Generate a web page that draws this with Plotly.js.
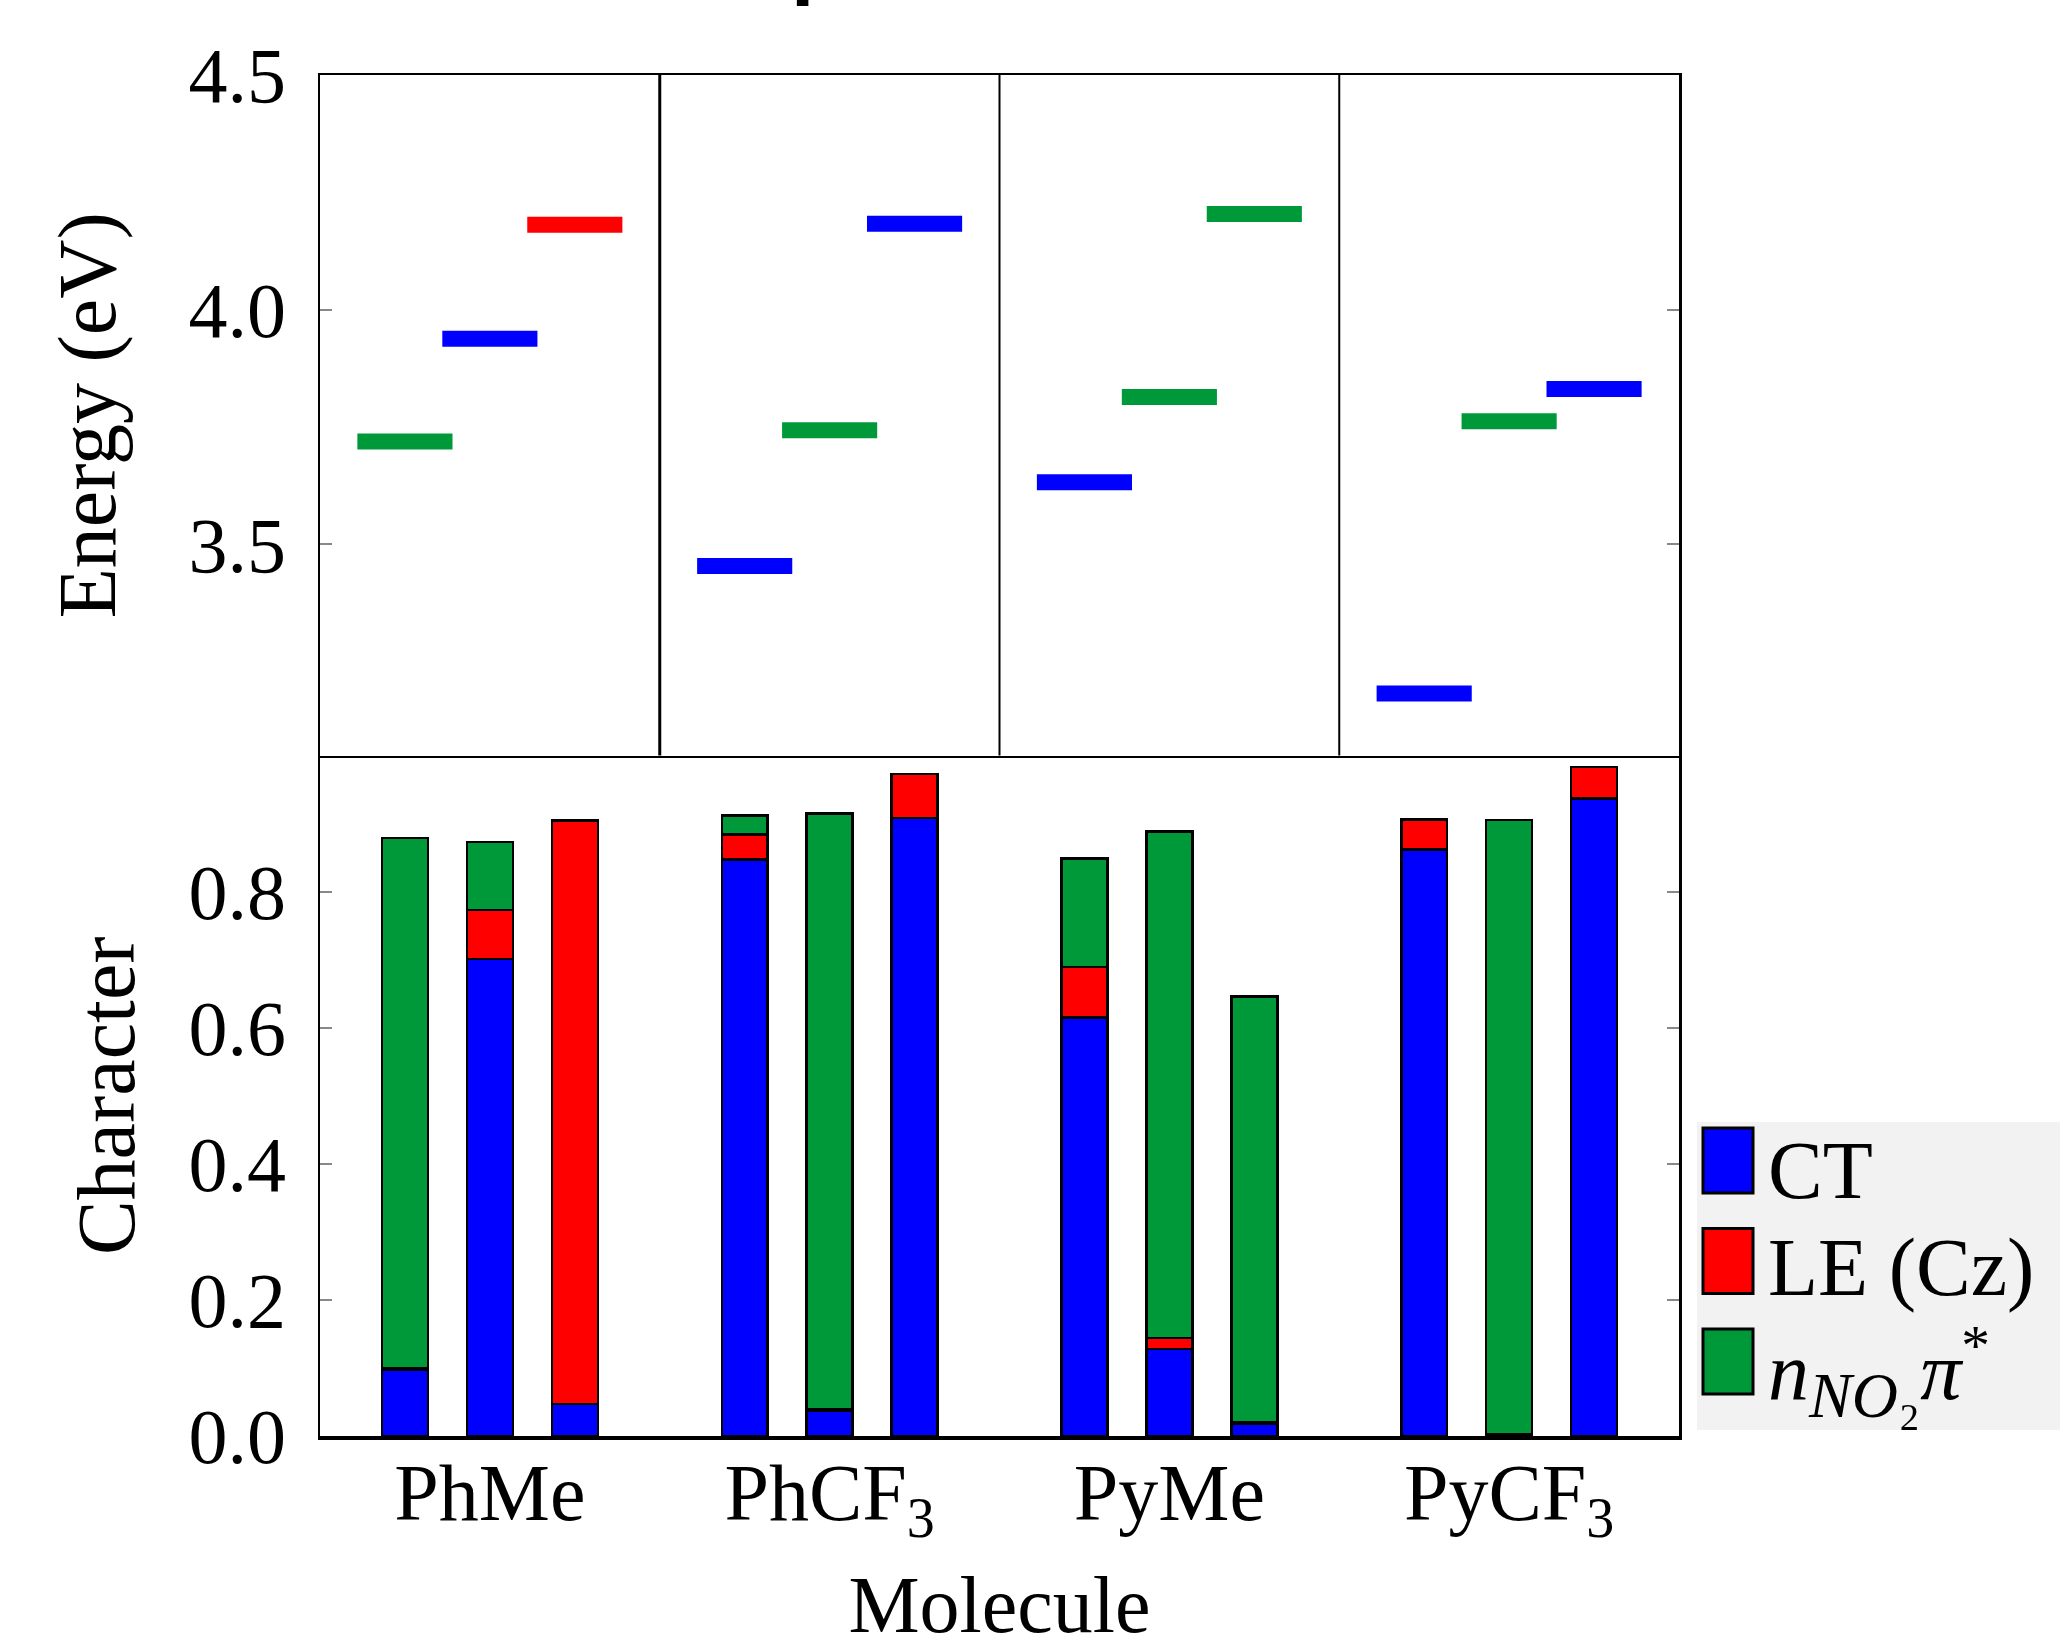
<!DOCTYPE html>
<html><head><meta charset="utf-8">
<script src="https://cdn.plot.ly/plotly-3.0.1.min.js"></script>
<style>html,body{margin:0;padding:0;background:#fff}</style>
</head><body>
<div id="chart" style="width:2060px;height:1649px"></div>
<script>
// ---- data ----
const molecules = ['PhMe', 'PhCF<sub>3</sub>', 'PyMe', 'PyCF<sub>3</sub>'];
const componentNames = ['CT', 'LE (Cz)',
  '<i>n</i><sub><span style="font-size:64px"><i>NO</i>\u2082</span></sub><i>\u03c0</i><sup>*</sup>'];
const componentColors = ['#0000ff', '#ff0000', '#00993a'];

// excitation energies (eV) of the three lowest states per molecule
const energyS1 = [3.719, 3.454, 3.632, 3.182];
const energyS2 = [3.938, 3.743, 3.814, 3.762];
const energyS3 = [4.181, 4.183, 4.204, 3.831];

// character decomposition per state: CT, LE (Cz), n_NO2 pi*
const ctS1 = [0.097, 0.847, 0.615, 0.862];
const leS1 = [0.002, 0.037, 0.074, 0.043];
const nS1  = [0.780, 0.028, 0.160, 0.002];
const ctS2 = [0.701, 0.037, 0.128, 0.003];
const leS2 = [0.072, 0.002, 0.016, 0.000];
const nS2  = [0.100, 0.876, 0.744, 0.902];
const ctS3 = [0.047, 0.908, 0.018, 0.937];
const leS3 = [0.857, 0.065, 0.002, 0.046];
const nS3  = [0.001, 0.000, 0.626, 0.000];

const energyTicks = [3.5, 4.0, 4.5];
const characterTicks = [0.0, 0.2, 0.4, 0.6, 0.8];

// ---- build ----
const energies = [energyS1, energyS2, energyS3];
const character = [[ctS1, leS1, nS1], [ctS2, leS2, nS2], [ctS3, leS3, nS3]];
const stateOffset = [-0.25, 0, 0.25];
const barWidth = 0.135;
const levelHalf = 0.14;
const FONT = 'Liberation Serif, Times New Roman, serif';

const traces = [];
// stacked character bars
for (let c = 0; c < 3; c++) {
  const x = [], y = [];
  for (let s = 0; s < 3; s++) {
    for (let m = 0; m < molecules.length; m++) {
      x.push(m + stateOffset[s]);
      y.push(character[s][c][m]);
    }
  }
  traces.push({
    type: 'bar', x: x, y: y, width: barWidth, name: componentNames[c],
    marker: {color: componentColors[c], line: {color: '#000', width: 2.5}},
    xaxis: 'x', yaxis: 'y', showlegend: false
  });
}
// energy levels coloured by dominant character
for (let c = 0; c < 3; c++) {
  const x = [], y = [];
  for (let s = 0; s < 3; s++) {
    for (let m = 0; m < molecules.length; m++) {
      const vals = [character[s][0][m], character[s][1][m], character[s][2][m]];
      const dom = vals.indexOf(Math.max.apply(null, vals));
      if (dom !== c) continue;
      const cx = m + stateOffset[s];
      x.push(cx - levelHalf, cx + levelHalf, null);
      y.push(energies[s][m], energies[s][m], null);
    }
  }
  traces.push({
    type: 'scatter', mode: 'lines', x: x, y: y, name: componentNames[c],
    line: {color: componentColors[c], width: 16},
    xaxis: 'x2', yaxis: 'y2', showlegend: false, hoverinfo: 'skip'
  });
}

// layout geometry (pixels)
const W = 2060, H = 1649;
const mL = 320, mR = 381, mT = 75, mB = 213;
const pw = W - mL - mR, ph = H - mT - mB;
const px2x = v => (v - mL) / pw;
const px2y = v => (H - mB - v) / ph;

const shapes = [];
// dividers between molecules in the energy panel
for (let m = 0; m < molecules.length - 1; m++) {
  shapes.push({type: 'line', xref: 'x2', yref: 'y2 domain', x0: m + 0.5, x1: m + 0.5, y0: 0, y1: 1,
               line: {color: '#000', width: m === 0 ? 3 : 2}});
}
// legend (drawn manually to get large swatches)
const legTop = 1122, legLeft = 1697, legBottom = 1430;
shapes.push({type: 'rect', xref: 'paper', yref: 'paper', x0: px2x(legLeft), x1: px2x(W + 5),
             y0: px2y(legBottom), y1: px2y(legTop), fillcolor: '#f2f2f2', line: {width: 0}, layer: 'below'});
const annotations = [];
const textMid = [1170, 1267, 1372];
for (let c = 0; c < 3; c++) {
  const top = 1128 + c * 100.5;
  shapes.push({type: 'rect', xref: 'paper', yref: 'paper', x0: px2x(1703), x1: px2x(1753),
               y0: px2y(top + 65), y1: px2y(top), fillcolor: componentColors[c],
               line: {color: '#000', width: 3}});
  annotations.push({xref: 'paper', yref: 'paper', x: px2x(1766), y: px2y(textMid[c]),
                    xanchor: 'left', yanchor: 'middle', showarrow: false, text: componentNames[c],
                    font: {family: FONT, size: 82, color: '#000'}});
}
// cut-off title remnant at the top edge
annotations.push({xref: 'paper', yref: 'paper', x: px2x(789), y: px2y(9), xanchor: 'left', yanchor: 'bottom',
                  showarrow: false, text: '<b>p</b>', font: {family: 'Liberation Sans, Arial, sans-serif', size: 84, color: '#000'}});

const yCommon = {
  ticks: 'inside', ticklen: 12, tickwidth: 2, tickcolor: '#888',
  showline: true, linecolor: '#000', linewidth: 2.5, mirror: 'ticks',
  showgrid: false, zeroline: false, tickformat: '.1f',
  tickfont: {family: FONT, size: 78, color: '#000'}, ticklabelstandoff: 16
};

const layout = {
  width: W, height: H,
  margin: {l: mL, r: mR, t: mT, b: mB, pad: 0},
  paper_bgcolor: '#fff', plot_bgcolor: '#fff',
  font: {family: FONT, size: 80, color: '#000'},
  barmode: 'stack', showlegend: false,
  xaxis: {domain: [0, 1], anchor: 'y', range: [-0.5, 3.5], tickvals: molecules.map((_, i) => i),
          ticktext: molecules, ticks: '', showline: true, linecolor: '#000', linewidth: 4, mirror: false,
          showgrid: false, zeroline: false, tickfont: {family: FONT, size: 80, color: '#000'},
          ticklabelstandoff: -16,
          title: {text: 'Molecule', standoff: 60, font: {family: FONT, size: 80, color: '#000'}}},
  xaxis2: {domain: [0, 1], anchor: 'y2', range: [-0.5, 3.5], showticklabels: false, ticks: '',
           showline: true, linecolor: '#000', linewidth: 2.5, mirror: true, showgrid: false, zeroline: false},
  yaxis: Object.assign({}, yCommon, {domain: [0, 0.5], anchor: 'x', range: [0, 1.0], tickvals: characterTicks,
          title: {text: 'Character', standoff: 27, font: {family: FONT, size: 82, color: '#000'}}}),
  yaxis2: Object.assign({}, yCommon, {domain: [0.5, 1], anchor: 'x2', range: [3.05, 4.5], tickvals: energyTicks,
          title: {text: 'Energy (eV)', standoff: 46, font: {family: FONT, size: 82, color: '#000'}}}),
  shapes: shapes, annotations: annotations
};

Plotly.newPlot('chart', traces, layout, {displayModeBar: false, staticPlot: true});
</script>
</body></html>
